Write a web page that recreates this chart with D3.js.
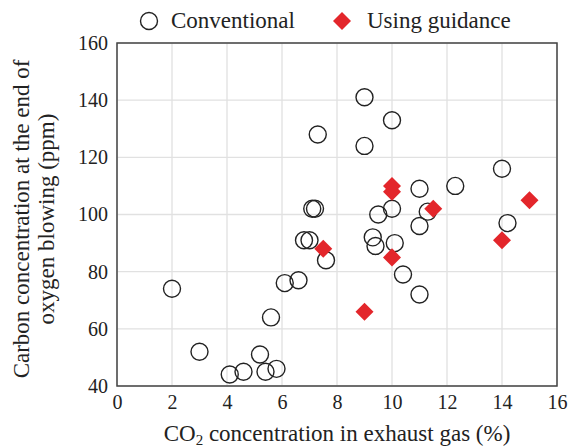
<!DOCTYPE html>
<html lang="en">
    <head>
        <meta charset="UTF-8">
        <title>CO2 vs carbon</title>
        <style>
            body { margin: 0; background: #fff; }
        </style>
    </head>
    <script src="https://cdn.jsdelivr.net/npm/d3@7"></script>
    <body>
        <svg width="576" height="448"></svg>
    </body>

    <script>
    // conventional heats: CO2 (%) and carbon (ppm)
    var convX = [2, 3, 4.1, 4.6, 5.2, 5.4, 5.8, 5.6, 6.1, 6.6, 6.8, 7.0, 7.6, 7.1, 7.2, 7.3,
                 9, 9, 10, 9.3, 9.4, 9.5, 10, 10.1, 10.4, 11, 11, 11, 11.3, 12.3, 14, 14.2];
    var convY = [74, 52, 44, 45, 51, 45, 46, 64, 76, 77, 91, 91, 84, 102, 102, 128,
                 141, 124, 133, 92, 89, 100, 102, 90, 79, 72, 96, 109, 101, 110, 116, 97];

    // heats using guidance
    var guideX = [7.5, 9, 10, 10, 10, 11.5, 14, 15];
    var guideY = [88, 66, 85, 108, 110, 102, 91, 105];

    var xTicks = [0, 2, 4, 6, 8, 10, 12, 14, 16];
    var yTicks = [40, 60, 80, 100, 120, 140, 160];

    var FONT = "'Liberation Serif', 'Times New Roman', Times, 'DejaVu Serif', serif";
    var INK = "#222";

    var margin = {left: 117, right: 19, top: 43, bottom: 62};
    var svg = d3.select("svg").style("font-family", FONT);
    var W = 576, H = 448;

    var x = d3.scaleLinear().domain([0, 16]).range([margin.left, W - margin.right]);
    var y = d3.scaleLinear().domain([40, 160]).range([H - margin.bottom, margin.top]);

    // grid
    svg.append("g").selectAll("line").data(xTicks).join("line")
        .attr("x1", d => x(d)).attr("x2", d => x(d))
        .attr("y1", y(40)).attr("y2", y(160))
        .attr("stroke", "#e1e1e1").attr("stroke-width", 1.3);
    svg.append("g").selectAll("line").data(yTicks).join("line")
        .attr("y1", d => y(d)).attr("y2", d => y(d))
        .attr("x1", x(0)).attr("x2", x(16))
        .attr("stroke", "#e1e1e1").attr("stroke-width", 1.3);

    // axes (labels only, no tick marks)
    var xAxis = svg.append("g")
        .attr("transform", "translate(0," + y(40) + ")")
        .call(d3.axisBottom(x).tickValues(xTicks).tickSize(0).tickPadding(9));
    var yAxis = svg.append("g")
        .attr("transform", "translate(" + x(0) + ",0)")
        .call(d3.axisLeft(y).tickValues(yTicks).tickSize(0).tickPadding(9));
    [xAxis, yAxis].forEach(function(a) {
        a.attr("font-family", null).attr("font-size", null);
        a.select(".domain").remove();
        a.selectAll("text")
            .style("font-family", FONT).style("font-size", "20px").attr("fill", INK);
    });

    // frame
    svg.append("rect")
        .attr("x", x(0)).attr("y", y(160))
        .attr("width", x(16) - x(0)).attr("height", y(40) - y(160))
        .attr("fill", "none").attr("stroke", "#444").attr("stroke-width", 1.5);

    // points
    var conv = convX.map((v, i) => [v, convY[i]]);
    var guide = guideX.map((v, i) => [v, guideY[i]]);

    svg.append("g").selectAll("circle").data(conv).join("circle")
        .attr("cx", d => x(d[0])).attr("cy", d => y(d[1]))
        .attr("r", 8.5)
        .attr("fill", "none").attr("stroke", INK).attr("stroke-width", 1.4);

    var diamond = d3.symbol().type(d3.symbolSquare).size(162);
    svg.append("g").selectAll("path").data(guide).join("path")
        .attr("d", diamond)
        .attr("transform", d => "translate(" + x(d[0]) + "," + y(d[1]) + ") rotate(45)")
        .attr("fill", "#e3262b");

    function label(sel) {
        return sel.style("font-family", FONT).style("font-size", "23px").attr("fill", INK);
    }

    // axis titles
    var xt = label(svg.append("text"))
        .attr("x", x(8)).attr("y", 441)
        .attr("text-anchor", "middle");
    xt.append("tspan").text("CO");
    xt.append("tspan").style("font-size", "15px").attr("dy", 4).text("2");
    xt.append("tspan").attr("dy", -4).text(" concentration in exhaust gas (%)");

    var yt = label(svg.append("text"))
        .attr("transform", "translate(0," + 219 + ") rotate(-90)")
        .attr("text-anchor", "middle");
    yt.append("tspan").attr("x", 0).attr("y", 29).text("Carbon concentration at the end of");
    yt.append("tspan").attr("x", 0).attr("y", 54).text("oxygen blowing (ppm)");

    // legend
    var leg = svg.append("g");
    leg.append("circle").attr("cx", 149).attr("cy", 21).attr("r", 8.5)
        .attr("fill", "none").attr("stroke", INK).attr("stroke-width", 1.4);
    label(leg.append("text")).attr("x", 171).attr("y", 28).text("Conventional");
    leg.append("path").attr("d", diamond)
        .attr("transform", "translate(342,21) rotate(45)").attr("fill", "#e3262b");
    label(leg.append("text")).attr("x", 367).attr("y", 28).text("Using guidance");
    </script>
</html>
